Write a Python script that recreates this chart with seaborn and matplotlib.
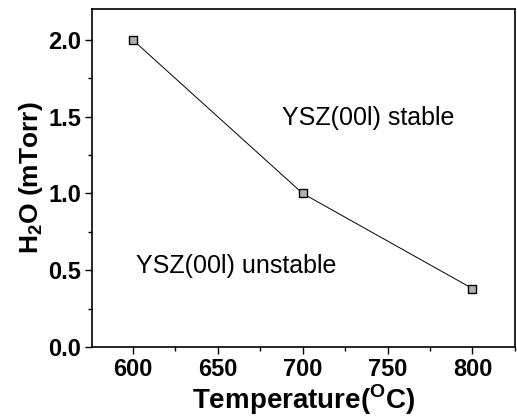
import seaborn as sns
import pandas as pd
import matplotlib.pyplot as plt
from matplotlib.ticker import MultipleLocator

sns.set_style("ticks")
plt.rcParams['font.family'] = ['Liberation Sans', 'DejaVu Sans']
plt.rcParams['mathtext.fontset'] = 'custom'
plt.rcParams['mathtext.rm'] = 'Liberation Sans:bold'
plt.rcParams['mathtext.bf'] = 'Liberation Sans:bold'
plt.rcParams['text.color'] = 'black'
plt.rcParams['axes.labelcolor'] = 'black'
plt.rcParams['xtick.color'] = 'black'
plt.rcParams['ytick.color'] = 'black'

temperature = [600, 700, 800]
h2o = [2.0, 1.0, 0.38]

df = pd.DataFrame({"T": temperature, "H2O": h2o})

fig, ax = plt.subplots(figsize=(5.17, 4.19), dpi=100)
fig.subplots_adjust(left=0.178, right=0.996, top=0.978, bottom=0.172)

sns.lineplot(data=df, x="T", y="H2O", ax=ax, color="black", linewidth=0.7,
             marker="s", markersize=6, markerfacecolor="#b0b0b0",
             markeredgecolor="black", markeredgewidth=1.0)

ax.set_xlim(576, 825)
ax.set_ylim(0, 2.2)
ax.xaxis.set_major_locator(MultipleLocator(50))
ax.xaxis.set_minor_locator(MultipleLocator(25))
ax.yaxis.set_major_locator(MultipleLocator(0.5))
ax.yaxis.set_minor_locator(MultipleLocator(0.25))
ax.tick_params(which="major", direction="out", length=5, width=1, labelsize=17, pad=3)
ax.tick_params(which="minor", direction="out", length=3, width=1)
for lab in ax.get_xticklabels() + ax.get_yticklabels():
    lab.set_fontweight("bold")
ax.yaxis.set_major_formatter(plt.FuncFormatter(lambda v, p: f"{v:.1f}"))

for s in ax.spines.values():
    s.set_linewidth(1.2)
    s.set_color("black")

ax.set_xlabel(r"Temperature($^\mathbf{O}$C)", fontsize=20, fontweight="bold", labelpad=1)
ax.set_ylabel(r"H$_\mathbf{2}$O (mTorr)", fontsize=19, fontweight="bold", labelpad=2)

ax.text(688, 1.49, "YSZ(00l) stable", fontsize=18, va="center")
ax.text(602, 0.53, "YSZ(00l) unstable", fontsize=18, va="center")

fig.savefig("out.png", dpi=100)
